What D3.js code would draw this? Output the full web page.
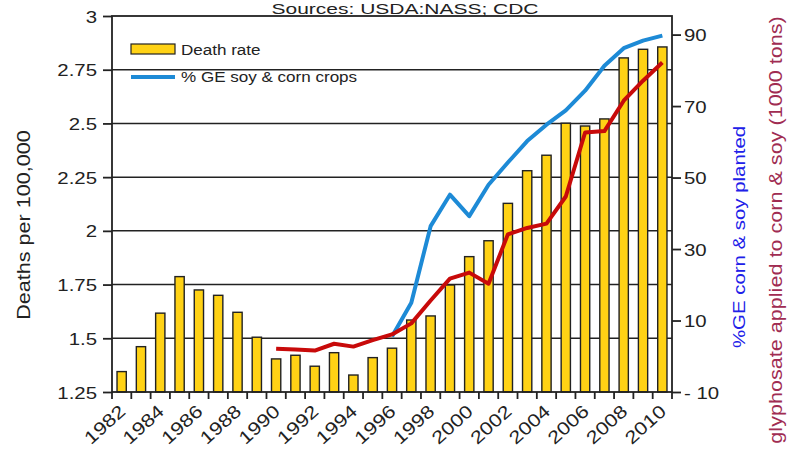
<!DOCTYPE html>
<html>
<head>
<meta charset="utf-8">
<script src="https://cdn.jsdelivr.net/npm/d3@7"></script>
<style>
  html, body { margin: 0; padding: 0; background: #fff; }
  svg { display: block; font-family: "Liberation Sans", Arial, sans-serif; }
</style>
</head>
<body>
<svg id="chart" width="787" height="451"></svg>
<script>
// ---- data ----
const years = [1982,1983,1984,1985,1986,1987,1988,1989,1990,1991,1992,1993,1994,1995,1996,1997,1998,1999,2000,2001,2002,2003,2004,2005,2006,2007,2008,2009,2010];
const deathRate = [1.345,1.461,1.617,1.787,1.725,1.700,1.621,1.505,1.404,1.421,1.370,1.433,1.329,1.410,1.454,1.585,1.604,1.748,1.880,1.954,2.128,2.280,2.352,2.501,2.488,2.521,2.805,2.845,2.856];
const geYears = [1996,1997,1998,1999,2000,2001,2002,2003,2004,2005,2006,2007,2008,2009,2010];
const geValues = [5.5,15.0,36.4,45.2,39.2,48.0,54.2,60.2,64.8,68.8,74.3,81.3,86.2,88.3,89.7];
const glyYears = [1990,1991,1992,1993,1994,1995,1996,1997,1998,1999,2000,2001,2002,2003,2004,2005,2006,2007,2008,2009,2010];
const glyValues = [2.1,1.9,1.6,3.5,2.7,4.5,6.1,9.2,15.6,21.7,23.4,20.3,34.1,35.9,37.1,44.7,62.6,63.0,71.5,77.1,82.2];
const leftTicks = [1.25,1.5,1.75,2,2.25,2.5,2.75,3];
const leftTickLabels = ["1.25","1.5","1.75","2","2.25","2.5","2.75","3"];
const rightTicks = [-10,10,30,50,70,90];
const xLabelYears = [1982,1984,1986,1988,1990,1992,1994,1996,1998,2000,2002,2004,2006,2008,2010];
const titleText = "Sources: USDA:NASS; CDC";
const legendLabels = ["Death rate", "% GE soy & corn crops"];
const yLeftTitle = "Deaths per 100,000";
const yRight1Title = "%GE corn & soy planted";
const yRight2Title = "glyphosate applied to corn & soy (1000 tons)";

// ---- layout ----
const L = 112, R = 672, T = 16, B = 392;
const SX = 1.2; // horizontal text stretch
const ink = "#222";
const svg = d3.select("#chart");

const x = d3.scaleBand().domain(years).range([L, R]).paddingInner(0.52).paddingOuter(0.26);
const yL = d3.scaleLinear().domain([1.25, 3]).range([B, T]);
const yR = d3.scaleLinear().domain([-10, 95.2]).range([B, T]);
const step = x.step();
const cx = d => x(d) + x.bandwidth() / 2;

// gridlines
svg.append("g").selectAll("line").data(leftTicks.filter(v => v > 1.25 && v < 3)).join("line")
  .attr("x1", L).attr("x2", R).attr("y1", d => yL(d)).attr("y2", d => yL(d))
  .attr("stroke", ink).attr("stroke-width", 1.5);

// bars
svg.append("g").selectAll("rect").data(years).join("rect")
  .attr("x", d => x(d)).attr("width", x.bandwidth())
  .attr("y", (d, i) => yL(deathRate[i])).attr("height", (d, i) => B - yL(deathRate[i]))
  .attr("fill", "#ffd215").attr("stroke", ink).attr("stroke-width", 1.4);

// lines
const lineGE = d3.line().x((d, i) => cx(geYears[i])).y(d => yR(d));
const lineGly = d3.line().x((d, i) => cx(glyYears[i])).y(d => yR(d));
svg.append("path").datum(geValues).attr("d", lineGE)
  .attr("fill", "none").attr("stroke", "#1d8ad6").attr("stroke-width", 4).attr("stroke-linejoin", "round");
svg.append("path").datum(glyValues).attr("d", lineGly)
  .attr("fill", "none").attr("stroke", "#c80a0a").attr("stroke-width", 4).attr("stroke-linejoin", "round");

// frame
svg.append("rect").attr("x", L).attr("y", T).attr("width", R - L).attr("height", B - T)
  .attr("fill", "none").attr("stroke", ink).attr("stroke-width", 1.8);

// left axis
const axL = svg.append("g").attr("transform", `translate(${L},0)`)
  .call(d3.axisLeft(yL).tickValues(leftTicks).tickSize(9).tickSizeOuter(0)
    .tickFormat((d, i) => leftTickLabels[i]));
axL.select(".domain").remove();
axL.selectAll(".tick line").attr("stroke", ink).attr("stroke-width", 1.8);
axL.selectAll(".tick text").attr("x", null).attr("dy", "0.36em")
  .attr("transform", `translate(-15,0) scale(${SX},1)`)
  .attr("font-size", 17).attr("fill", ink).attr("font-family", null);

// right axis
const axR = svg.append("g").attr("transform", `translate(${R},0)`)
  .call(d3.axisRight(yR).tickValues(rightTicks).tickSize(9).tickSizeOuter(0));
axR.select(".domain").remove();
axR.selectAll(".tick line").attr("stroke", ink).attr("stroke-width", 1.8);
axR.selectAll(".tick text").attr("x", null).attr("dy", "0.36em")
  .attr("transform", `translate(12,0) scale(${SX},1)`)
  .attr("font-size", 17).attr("fill", ink).attr("font-family", null)
  .text(d => d < 0 ? "- " + Math.abs(d) : d);

// x axis ticks at band boundaries
svg.append("g").selectAll("line").data(years.concat(["end"])).join("line")
  .attr("x1", d => d === "end" ? R : x(d) - x.paddingInner() * step / 2)
  .attr("x2", d => d === "end" ? R : x(d) - x.paddingInner() * step / 2)
  .attr("y1", B).attr("y2", B + 7).attr("stroke", ink).attr("stroke-width", 1.8);

// x labels
svg.append("g").selectAll("text").data(xLabelYears).join("text")
  .attr("transform", d => `translate(${cx(d) + 5},${B + 21}) rotate(-42) scale(${SX},1)`)
  .attr("text-anchor", "end").attr("font-size", 18).attr("fill", ink).text(d => d);

// title
svg.append("text").attr("transform", `translate(405,14) scale(1.4,1)`)
  .attr("text-anchor", "middle").attr("font-size", 15).attr("fill", ink).text(titleText);

// legend
svg.append("rect").attr("x", 131).attr("y", 44).attr("width", 44).attr("height", 10)
  .attr("fill", "#ffd215").attr("stroke", ink).attr("stroke-width", 1.2);
svg.append("line").attr("x1", 131).attr("x2", 175).attr("y1", 77).attr("y2", 77)
  .attr("stroke", "#1d8ad6").attr("stroke-width", 4);
svg.append("g").selectAll("text").data(legendLabels).join("text")
  .attr("transform", (d, i) => `translate(181,${i === 0 ? 54.5 : 81.5}) scale(1.1,1)`)
  .attr("font-size", 15.5).attr("fill", ink).text(d => d);

// axis titles
svg.append("text").attr("transform", `translate(30,225) rotate(-90) scale(${SX},1)`)
  .attr("text-anchor", "middle").attr("font-size", 18).attr("fill", ink).text(yLeftTitle);
svg.append("text").attr("transform", `translate(745,237) rotate(-90) scale(${SX},1)`)
  .attr("text-anchor", "middle").attr("font-size", 17).attr("fill", "#2020e8").text(yRight1Title);
svg.append("text").attr("transform", `translate(782,230) rotate(-90) scale(${SX},1)`)
  .attr("text-anchor", "middle").attr("font-size", 18).attr("fill", "#a02c52").text(yRight2Title);
</script>
</body>
</html>
